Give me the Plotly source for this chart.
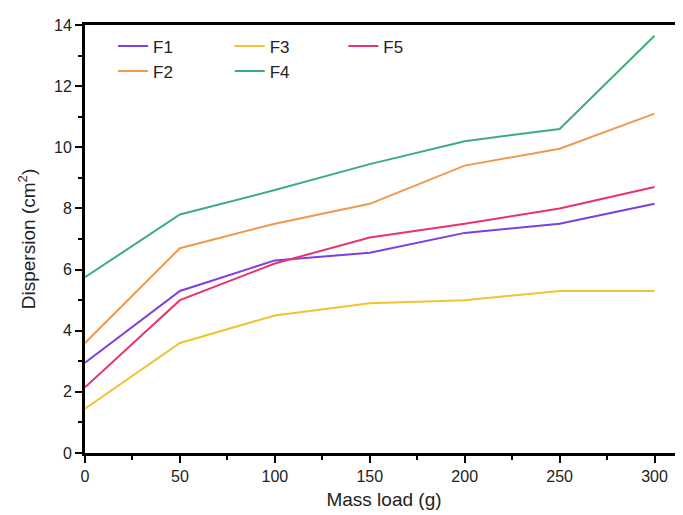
import plotly.graph_objects as go

mass_load = [0, 50, 100, 150, 200, 250, 300]
F1 = [2.95, 5.3, 6.3, 6.55, 7.2, 7.5, 8.15]
F2 = [3.6, 6.7, 7.5, 8.15, 9.4, 9.95, 11.1]
F3 = [1.45, 3.6, 4.5, 4.9, 5.0, 5.3, 5.3]
F4 = [5.75, 7.8, 8.6, 9.45, 10.2, 10.6, 13.65]
F5 = [2.15, 5.0, 6.2, 7.05, 7.5, 8.0, 8.7]

series = [
    ("F1", F1, "#7B3FE4", "legend"),
    ("F2", F2, "#EE9A4D", "legend"),
    ("F3", F3, "#F2C232", "legend2"),
    ("F4", F4, "#3DAE7A", "legend2"),
    ("F5", F5, "#E8336F", "legend3"),
]

fig = go.Figure()
for name, vals, color, lg in series:
    fig.add_trace(go.Scatter(x=mass_load, y=vals, mode="lines", name=name,
                             line=dict(color=color, width=2), legend=lg))

font = "Liberation Sans, Arial, sans-serif"
leg_common = dict(bgcolor="rgba(0,0,0,0)", font=dict(size=17, color="#222", family=font),
                  yanchor="top", xanchor="left", tracegroupgap=0, itemwidth=30,
                  orientation="v")

fig.update_layout(
    width=683, height=515,
    margin=dict(l=77, r=8, t=17, b=70),
    paper_bgcolor="white", plot_bgcolor="white",
    font=dict(family=font, color="#222"),
    legend=dict(x=0.047, y=0.992, **leg_common),
    legend2=dict(x=0.242, y=0.992, **leg_common),
    legend3=dict(x=0.432, y=0.992, **leg_common),
    xaxis=dict(
        range=[0, 315], tickmode="array", tickvals=[0, 50, 100, 150, 200, 250, 300],
        ticks="outside", ticklen=7, tickwidth=2, tickcolor="black",
        showline=True, linewidth=3, linecolor="black", mirror=True,
        showgrid=False, zeroline=False,
        tickfont=dict(size=16, family=font, color="#222"),
        title=dict(text="Mass load (g)", font=dict(size=19, family=font, color="#222"), standoff=9),
        minor=dict(tickvals=[25, 75, 125, 175, 225, 275], ticks="outside", ticklen=4,
                   tickwidth=2, tickcolor="black"),
    ),
    yaxis=dict(
        range=[0, 14], tickmode="array", tickvals=[0, 2, 4, 6, 8, 10, 12, 14],
        ticks="outside", ticklen=7, tickwidth=2, tickcolor="black",
        showline=True, linewidth=3, linecolor="black", mirror=False,
        showgrid=False, zeroline=False,
        tickfont=dict(size=16, family=font, color="#222"),
        title=dict(text="Dispersion (cm<sup>2</sup>)", font=dict(size=19, family=font, color="#222"), standoff=14),
        minor=dict(tickvals=[1, 3, 5, 7, 9, 11, 13], ticks="outside", ticklen=4,
                   tickwidth=2, tickcolor="black"),
    ),
)

fig.write_html("out.html")
